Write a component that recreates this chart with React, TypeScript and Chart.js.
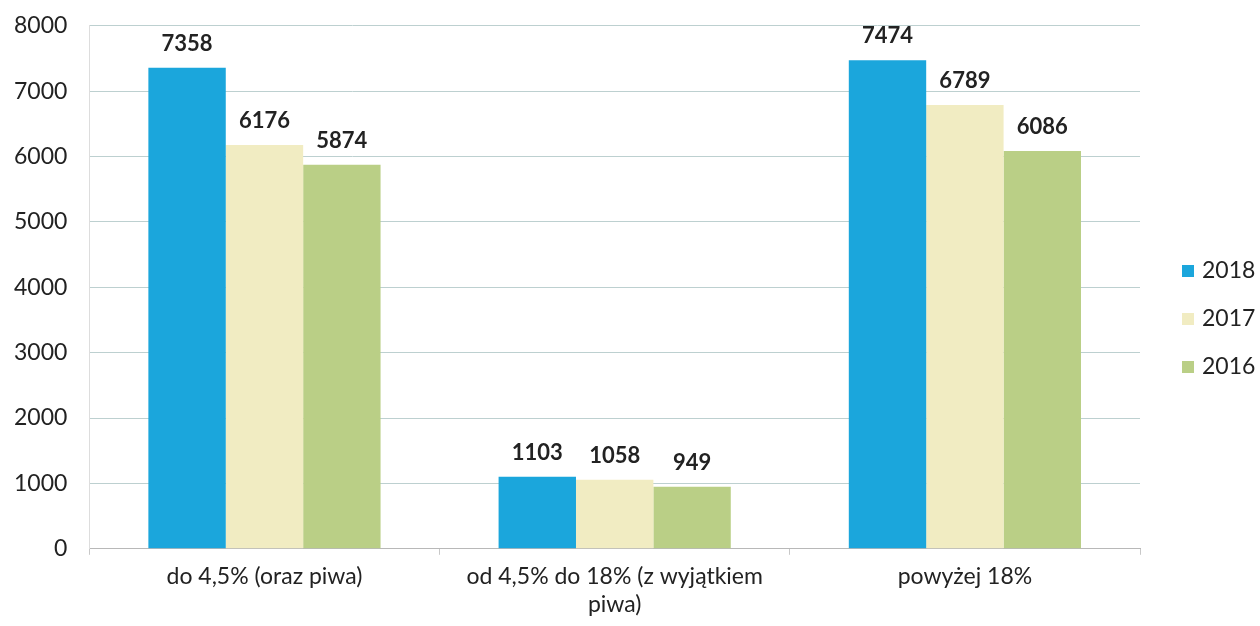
import React, { useEffect, useRef } from "react";
import { Chart, registerables } from "chart.js";

Chart.register(...registerables);

const categories: (string | string[])[] = [
  "do 4,5% (oraz piwa)",
  ["od 4,5% do 18% (z wyjątkiem", "piwa)"],
  "powyżej 18%",
];
const years = ["2018", "2017", "2016"];
const values2018 = [7358, 1103, 7474];
const values2017 = [6176, 1058, 6789];
const values2016 = [5874, 949, 6086];
const yTicks = [0, 1000, 2000, 3000, 4000, 5000, 6000, 7000, 8000];
const colors = ["#1ba6dc", "#f1ecc2", "#bacf86"];

const FONT = "Lato, 'Open Sans', sans-serif";
const SHIFT = 10;

const valueLabels = {
  id: "valueLabels",
  afterDatasetsDraw(chart: any) {
    const ctx = chart.ctx;
    ctx.save();
    ctx.font = `bold 22px ${FONT}`;
    ctx.fillStyle = "#222";
    ctx.textAlign = "center";
    ctx.textBaseline = "bottom";
    chart.data.datasets.forEach((ds: any, i: number) => {
      const meta = chart.getDatasetMeta(i);
      meta.data.forEach((bar: any, j: number) => {
        ctx.fillText(String(ds.data[j]), bar.x, bar.y - 13);
      });
    });
    ctx.restore();
  },
};

const sideLegend = {
  id: "sideLegend",
  afterDraw(chart: any) {
    const ctx = chart.ctx;
    ctx.save();
    ctx.font = `23px ${FONT}`;
    ctx.textBaseline = "middle";
    ctx.textAlign = "left";
    chart.data.datasets.forEach((ds: any, i: number) => {
      const y = 271 + SHIFT + i * 48;
      ctx.fillStyle = ds.backgroundColor;
      ctx.fillRect(1182, y - 6, 12, 12);
      ctx.fillStyle = "#222";
      ctx.fillText(ds.label, 1202, y);
    });
    ctx.restore();
  },
};

export default function App() {
  const ref = useRef<HTMLCanvasElement>(null);
  useEffect(() => {
    document.body.style.margin = "0";
    const chart = new Chart(ref.current!, {
      type: "bar",
      data: {
        labels: categories,
        datasets: [
          { label: years[0], data: values2018, backgroundColor: colors[0] },
          { label: years[1], data: values2017, backgroundColor: colors[1] },
          { label: years[2], data: values2016, backgroundColor: colors[2] },
        ],
      },
      options: {
        animation: false,
        responsive: false,
        layout: { padding: { left: -8, right: 120, top: 0, bottom: 0 } },
        plugins: { legend: { display: false }, tooltip: { enabled: false } },
        datasets: { bar: { categoryPercentage: 0.663, barPercentage: 1 } },
        scales: {
          x: {
            grid: {
              offset: true,
              drawOnChartArea: false,
              drawTicks: true,
              tickLength: 6,
              color: "#c8c8c8",
            },
            border: { display: true, color: "#b8b8b8" },
            ticks: {
              font: { family: FONT, size: 23, lineHeight: 1.2 },
              color: "#222",
              padding: 8,
            },
          },
          y: {
            min: 0,
            max: 8000,
            afterBuildTicks: (axis: any) => {
              axis.ticks = yTicks.map((v) => ({ value: v }));
            },
            grid: { color: "#bdd0d0", drawTicks: false },
            border: { display: true, color: "#dddddd" },
            ticks: {
              font: { family: FONT, size: 23 },
              color: "#222",
              padding: 22,
              callback: (v: any) => String(v),
            },
          },
        },
      },
      plugins: [valueLabels, sideLegend],
    });
    return () => chart.destroy();
  }, []);
  return (
    <div style={{ width: 1260, height: 626, overflow: "hidden" }}>
      <canvas
        ref={ref}
        width={1260}
        height={626 + SHIFT}
        style={{ display: "block", marginTop: -SHIFT }}
      />
    </div>
  );
}
